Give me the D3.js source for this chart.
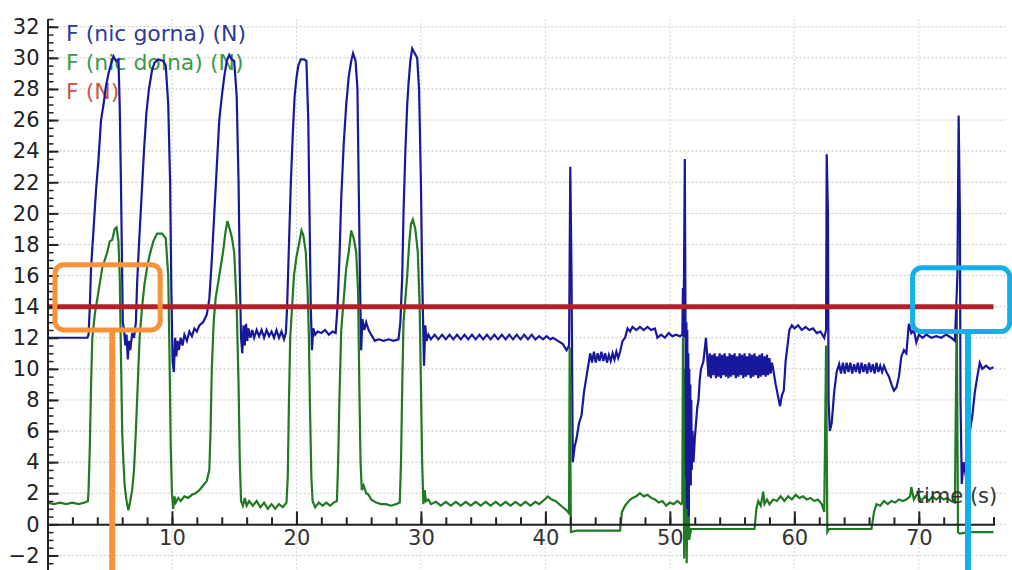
<!DOCTYPE html>
<html>
<head>
<meta charset="utf-8">
<script src="https://cdn.jsdelivr.net/npm/d3@7"></script>
<style>
  body { margin: 0; background: #fff; }
  svg { display: block; }
  text { font-family: "DejaVu Sans", sans-serif; }
</style>
</head>
<body>
<script>
// F (nic gorna) (N) - [time s, force N]
const gorna = [
  [0,12.0],[3.2,12.0],[3.3,12.2],[3.4,14],[3.5,16.5],[3.7,19],[3.9,21.5],[4.1,23.5],[4.3,26],[4.5,27],
  [4.7,28.2],[4.9,29],[5.1,29.6],[5.3,30.1],[5.5,29.8],[5.7,29.9],[5.8,27],[5.9,22],[6.0,16],[6.05,13],
  [6.15,12.5],[6.25,11.5],[6.35,12.2],[6.45,10.6],[6.55,11.8],[6.65,11.2],[6.8,12.3],[6.95,12.0],[7.1,13],
  [7.2,15.5],[7.35,18],[7.55,21],[7.75,24],[7.95,26.5],[8.15,28],[8.4,29.2],[8.6,29.7],[8.9,29.9],[9.3,29.8],
  [9.5,29.5],[9.7,27],[9.85,22],[9.95,15],[10.05,10.5],[10.15,9.8],[10.25,12],[10.35,10.8],[10.45,11.8],
  [10.55,11.2],[10.7,12.0],[10.85,11.5],[11.0,12.2],[11.2,11.8],[11.4,12.4],[11.6,12.1],[11.8,12.6],[12.0,12.4],
  [12.2,12.8],[12.5,13.0],[12.8,13.5],[13.0,14.5],[13.2,17],[13.4,20],[13.6,23],[13.8,26],[14.0,27.5],
  [14.2,28.8],[14.4,29.8],[14.6,30.2],[14.8,29.9],[15.0,29.8],[15.2,27.5],[15.35,22],[15.45,16],[15.55,12],
  [15.65,11],[15.75,12.8],[15.85,11.5],[15.95,12.9],[16.05,11.8],[16.15,12.6],[16.3,12.0],[16.45,12.5],
  [16.6,12.0],[16.8,12.5],[17.0,12.1],[17.2,12.5],[17.4,12.0],[17.6,12.5],[17.8,12.1],[18.0,12.4],[18.2,12.0],
  [18.4,12.5],[18.6,12.0],[18.8,12.4],[19.0,11.9],[19.15,12.3],[19.25,14],[19.4,18],[19.55,22],[19.7,25],
  [19.85,27.5],[20.0,28.7],[20.15,29.5],[20.35,29.9],[20.6,29.9],[20.8,29.8],[20.95,26],[21.05,20],[21.15,14],
  [21.25,11.2],[21.35,12.6],[21.5,12.2],[21.7,12.4],[22.0,12.3],[22.3,12.5],[22.6,12.2],[22.9,12.4],[23.15,12.3],
  [23.3,14],[23.45,17],[23.6,21],[23.8,24.5],[24.0,27],[24.2,28.8],[24.4,29.8],[24.55,30.3],[24.75,29.8],
  [24.9,28],[25.0,22],[25.1,16],[25.2,11.2],[25.3,13.2],[25.45,12.5],[25.6,13.0],[25.8,12.5],[26.0,12.2],
  [26.3,11.8],[26.6,11.9],[27.0,11.8],[27.4,11.9],[27.8,11.8],[28.2,11.9],[28.35,13],[28.5,16],[28.6,20],
  [28.75,24],[28.9,27],[29.0,28.3],[29.15,29.8],[29.3,30.6],[29.5,30.3],[29.7,30.0],[29.85,28],[30.0,22],
  [30.1,16],[30.2,12],[30.25,10.2],[30.35,12.8],[30.45,11.8],[30.6,12.2],
  [30.8,11.9],[31.1,12.2],[31.4,11.9],[31.7,12.2],[32.0,11.9],[32.3,12.2],[32.6,11.9],[32.9,12.2],[33.2,11.9],
  [33.5,12.2],[33.8,11.9],[34.1,12.2],[34.4,11.9],[34.7,12.2],[35.0,11.9],[35.3,12.2],[35.6,11.9],[35.9,12.2],
  [36.2,11.9],[36.5,12.2],[36.8,11.9],[37.1,12.2],[37.4,11.9],[37.7,12.2],[38.0,11.9],[38.3,12.2],[38.6,11.9],
  [38.9,12.2],[39.2,11.9],[39.5,12.1],[39.8,11.9],[40.1,12.1],[40.4,11.9],
  [40.6,12.0],[41.0,11.8],[41.4,11.6],[41.7,11.2],[41.9,11.5],[42.0,23.0],[42.1,16],[42.2,4.0],[42.35,5.0],
  [42.5,5.5],[42.7,6.5],[42.9,7.0],[43.1,8.5],[43.3,9.5],[43.5,10.5],[43.6,11.0],[43.75,10.4],[43.9,11.1],
  [44.05,10.4],[44.2,11.0],[44.35,10.5],[44.5,11.1],[44.65,10.5],[44.8,11.0],[44.95,10.4],[45.1,10.9],
  [45.25,10.5],[45.4,11.0],[45.55,10.6],[45.7,11.1],[45.85,10.7],[46.0,11.1],[46.2,11.8],[46.4,12.0],
  [46.6,12.6],[46.8,12.4],[47.0,12.7],[47.3,12.5],[47.6,12.7],[47.9,12.5],
  [48.2,12.7],[48.5,12.5],[48.8,12.6],[49.0,12.0],[49.3,12.2],[49.6,12.0],[49.9,12.3],[50.2,12.1],[50.5,12.2],
  [50.8,12.1],[51.0,12.2],[51.05,15.2],[51.1,12],[51.2,23.5],[51.25,14],[51.3,3],[51.33,13],[51.37,1],
  [51.4,12.5],[51.44,2],[51.48,11],[51.52,0.5],[51.56,10],[51.6,3],[51.64,9],[51.68,2.5],[51.72,8],[51.76,3.5],
  [51.82,6],[51.9,4],[52.0,5.5],[52.1,6.5],[52.2,7.5],[52.3,8],[52.4,9.3],[52.5,10],
  [52.7,10.5],[52.9,12.0],[53.0,10.8],
  [53.1,9.5],[53.2,11.0],[53.3,9.4],[53.4,10.9],[53.5,9.6],[53.6,11.0],[53.7,9.4],[53.8,10.8],[53.9,9.5],
  [54.0,11.0],[54.1,9.4],[54.2,10.9],[54.3,9.6],[54.4,11.0],[54.5,9.5],[54.6,10.8],[54.7,9.4],[54.8,11.0],
  [54.9,9.5],[55.0,10.9],[55.1,9.6],[55.2,11.0],[55.3,9.4],[55.4,10.8],[55.5,9.5],[55.6,11.0],[55.7,9.6],
  [55.8,10.9],[55.9,9.4],[56.0,11.0],[56.1,9.5],[56.2,10.8],[56.3,9.6],[56.4,11.0],[56.5,9.4],[56.6,10.9],
  [56.7,9.5],[56.8,11.0],[56.9,9.6],[57.0,10.8],[57.1,9.4],[57.2,10.9],[57.3,9.5],[57.4,11.0],[57.5,9.6],
  [57.6,10.8],[57.7,9.5],[57.8,10.9],[57.9,9.6],[58.0,10.7],[58.1,9.7],[58.2,10.4],
  [58.3,10.0],[58.5,9.0],[58.7,8.2],[58.85,7.6],[59.0,8.3],[59.15,8.6],[59.3,10.5],[59.45,11.5],[59.6,12.5],
  [59.8,12.8],[60.0,12.6],[60.3,12.8],[60.6,12.5],[60.9,12.7],[61.2,12.5],[61.5,12.6],[61.8,12.3],[62.1,12.4],
  [62.4,12.0],[62.55,12.5],[62.6,23.8],[62.7,20],[62.75,8],[62.85,6.0],[63.0,6.5],[63.2,8.5],[63.4,9.8],
  [63.6,10.3],[63.75,9.7],[63.9,10.4],[64.05,9.7],[64.2,10.4],[64.35,9.8],[64.5,10.4],[64.65,9.7],[64.8,10.3],
  [64.95,9.8],[65.1,10.4],[65.25,9.7],[65.4,10.4],[65.55,9.8],[65.7,10.3],[65.85,9.7],[66.0,10.4],[66.15,9.8],
  [66.3,10.3],[66.45,9.7],[66.6,10.4],[66.75,9.8],[66.9,10.2],[67.05,9.8],[67.2,10.2],[67.4,9.8],
  [67.6,9.5],[67.8,9.0],[68.0,8.6],[68.2,8.8],[68.4,9.5],[68.6,10.8],[68.8,11.2],
  [69.0,11.0],[69.2,12.9],[69.4,12.3],[69.6,12.5],[69.8,11.7],[70.0,12.2],[70.3,12.0],[70.6,12.2],[71.0,12.0],
  [71.4,12.1],[71.8,12.0],[72.2,12.2],[72.6,12.0],[72.9,11.8],[73.1,16],[73.2,26.3],[73.3,20],[73.35,8],
  [73.45,2.6],[73.6,4],[73.8,3],[74.0,5.5],[74.3,7.0],[74.5,8.5],[74.7,9.5],[74.9,10.4],[75.1,10.0],
  [75.4,10.2],[75.7,10.0],[76.0,10.1]
];

// F (nic dolna) (N)
const dolna = [
  [0,1.4],[0.5,1.3],[1,1.4],[1.5,1.3],[2,1.4],[2.5,1.3],[3.0,1.4],[3.25,1.5],[3.3,2.2],[3.4,5],[3.5,9],
  [3.6,12],[3.8,13.5],[4.0,14.5],[4.2,15.5],[4.4,16.5],[4.6,17.0],[4.8,17.5],[5.0,18.2],[5.2,18.3],[5.4,19.0],
  [5.55,19.1],[5.7,18.2],[5.8,16],[5.9,11],[6.0,6],[6.1,4],[6.2,2.5],[6.35,1.5],[6.5,0.9],[6.65,1.5],[6.8,2.2],
  [6.95,3.5],[7.1,6],[7.25,9],[7.4,12],[7.6,14],[7.8,15.5],[8.0,16.5],[8.2,17.3],[8.5,18.2],[8.8,18.7],
  [9.2,18.7],[9.5,18.4],[9.7,16],[9.8,11],[9.9,5],[10.0,2],[10.1,1.0],[10.2,1.8],[10.3,1.4],[10.5,1.7],
  [10.7,1.5],[11.0,1.8],[11.3,1.7],[11.6,1.9],[11.9,2.0],[12.2,2.2],[12.5,2.5],[12.8,2.8],[13.0,3.5],[13.1,6],
  [13.2,10],[13.35,13],[13.5,14.5],[13.7,15.5],[13.9,16.5],[14.1,17.5],[14.3,18.8],[14.45,19.5],[14.6,19.1],
  [14.8,18.5],[15.0,17.5],[15.2,14],[15.35,9],[15.45,4],[15.55,1.5],[15.7,1.2],[15.85,1.7],[16.0,1.2],
  [16.2,1.5],[16.5,1.2],[16.8,1.5],[17.1,1.1],[17.4,1.4],[17.7,1.0],[18.0,1.3],[18.3,1.0],[18.6,1.3],
  [18.9,1.1],[19.2,1.4],[19.3,3],[19.4,8],[19.5,12],[19.65,14],[19.8,16],[20.0,17.2],[20.2,18.0],[20.4,18.9],
  [20.55,18.6],[20.75,17.5],[20.9,15],[21.0,12],[21.1,7],[21.2,3],[21.3,1.5],[21.5,1.1],[21.8,1.4],[22.1,1.2],
  [22.4,1.4],[22.7,1.2],[23.0,1.4],[23.25,1.5],[23.35,4],[23.45,8],[23.6,12.5],[23.8,14.5],[24.0,16.5],
  [24.2,17.5],[24.4,18.9],[24.6,18.4],[24.8,17.5],[24.95,15],[25.05,9],[25.15,4],[25.25,2.2],[25.4,2.5],
  [25.6,2.0],[25.8,1.9],[26.0,1.6],[26.4,1.4],[26.8,1.3],[27.2,1.3],[27.6,1.2],[28.0,1.3],[28.3,1.4],[28.4,4],
  [28.5,9],[28.6,13],[28.75,14.5],[28.9,16],[29.05,18],[29.2,19.3],[29.35,19.6],[29.55,19.0],[29.75,17.5],
  [29.9,14],[30.0,9],[30.1,4],[30.2,1.3],[30.3,2.2],[30.4,1.5],[30.6,1.6],[30.8,1.3],
  [31.2,1.45],[31.6,1.2],[32.0,1.45],[32.4,1.2],[32.8,1.45],[33.2,1.2],[33.6,1.45],[34.0,1.2],[34.4,1.45],
  [34.8,1.2],[35.2,1.45],[35.6,1.2],[36.0,1.45],[36.4,1.2],[36.8,1.45],[37.2,1.2],[37.6,1.45],[38.0,1.2],
  [38.4,1.45],[38.8,1.2],[39.2,1.45],[39.5,1.3],
  [39.8,1.5],[40.2,1.8],[40.5,1.6],[40.8,1.5],[41.1,1.3],[41.4,1.1],[41.7,0.9],[41.9,0.7],[41.95,11.4],
  [42.05,-0.5],[42.5,-0.4],[44,-0.4],[46.0,-0.4],[46.15,0.8],[46.4,1.2],[46.7,1.5],[47.0,1.7],[47.3,1.8],
  [47.6,2.0],[47.9,1.8],[48.2,1.9],[48.5,1.7],[48.8,1.6],[49.1,1.4],[49.4,1.5],[49.7,1.2],[50.0,1.4],
  [50.3,1.3],[50.6,1.5],[50.9,1.3],[51.0,1.4],[51.05,12],[51.15,-2.2],[51.25,10],[51.35,-2.5],[51.45,5],
  [51.55,-1],[51.7,-0.3],[53,-0.3],[55,-0.3],[56.8,-0.3],[56.95,1.0],[57.1,1.5],[57.3,1.2],[57.5,2.1],
  [57.6,1.3],[57.8,1.6],[58.0,1.3],[58.3,1.6],[58.6,1.5],[58.9,1.8],[59.2,1.5],[59.5,1.8],[59.8,1.6],
  [60.1,1.9],[60.4,1.7],[60.7,1.8],[61.0,1.6],[61.3,1.7],[61.6,1.5],[61.9,1.6],[62.2,1.3],[62.4,0.8],
  [62.55,11.5],[62.65,-0.5],[62.8,-0.3],[64,-0.3],[66.2,-0.3],[66.4,0.8],[66.6,1.3],[66.9,1.2],[67.2,1.5],
  [67.5,1.3],[67.8,1.5],[68.1,1.4],[68.4,1.6],[68.7,1.5],[69.0,1.6],[69.3,1.8],[69.4,2.4],[69.6,1.6],
  [69.9,2.0],[70.2,1.5],[70.5,1.8],[70.8,1.5],[71.1,1.8],[71.4,1.6],[71.7,1.8],[72.0,1.6],[72.3,1.7],
  [72.6,1.5],[72.9,1.4],[73.05,14],[73.15,-0.5],[73.3,-0.6],[74,-0.5],[76,-0.5]
];

// F (N) - threshold
const fLine = [[0,14],[76,14]];

const legendLabels = ["F (nic gorna) (N)", "F (nic dolna) (N)", "F (N)"];
const legendColors = ["#2e3a98", "#3d9a48", "#c65a45"];

const yMajor = d3.range(-2, 33, 2);
const yMinor = d3.range(-3, 32.6, 0.5);
const xMajor = [10, 20, 30, 40, 50, 60, 70];
const xMinor = d3.range(0, 77, 2);

// highlight boxes [x0, x1, y0, y1, stem x]
const orangeBox = [0.6, 9.05, 12.5, 16.7, 5.2];
const blueBox = [69.5, 77.3, 12.4, 16.5, 73.95];

const width = 1012;
const height = 570;

const x = d3.scaleLinear().domain([0, 76]).range([47.5, 993.5]);
const y = d3.scaleLinear().domain([-3, 32.5]).range([571, 19]);

const svg = d3.select("body")
  .append("svg")
  .attr("width", width)
  .attr("height", height);

// grid
svg.append("g")
  .selectAll("line")
  .data(yMajor)
  .join("line")
  .attr("x1", x(0))
  .attr("x2", x(77))
  .attr("y1", d => y(d))
  .attr("y2", d => y(d))
  .style("stroke", "#c4c4c4")
  .style("stroke-dasharray", "2,2");

svg.append("g")
  .selectAll("line")
  .data(xMajor)
  .join("line")
  .attr("x1", d => x(d))
  .attr("x2", d => x(d))
  .attr("y1", y(32.5))
  .attr("y2", y(-3))
  .style("stroke", "#d4d4d4")
  .style("stroke-dasharray", "2,2");

// legend (under the traces)
svg.append("g")
  .selectAll("text")
  .data(legendLabels)
  .join("text")
  .attr("x", 66)
  .attr("y", (d, i) => 41 + i * 29)
  .style("font-size", "22px")
  .style("fill", (d, i) => legendColors[i])
  .text(d => d);

const line = d3.line().x(d => x(d[0])).y(d => y(d[1]));

svg.append("path")
  .datum(dolna)
  .attr("d", line)
  .style("fill", "none")
  .style("stroke", "#1f7a22")
  .style("stroke-width", 2.2);

svg.append("path")
  .datum(gorna)
  .attr("d", line)
  .style("fill", "none")
  .style("stroke", "#18189c")
  .style("stroke-width", 2.2);

svg.append("path")
  .datum(fLine)
  .attr("d", line)
  .style("fill", "none")
  .style("stroke", "#b3202a")
  .style("stroke-width", 5);

// y axis
svg.append("g")
  .attr("transform", `translate(${x(0)},0)`)
  .call(d3.axisLeft(y).tickValues(yMinor).tickSizeInner(-6).tickSizeOuter(0).tickFormat(""))
  .call(g => g.select(".domain").remove())
  .selectAll("line").style("stroke", "#222").style("stroke-width", 1.5);

svg.append("g")
  .attr("transform", `translate(${x(0)},0)`)
  .call(d3.axisLeft(y).tickValues(yMajor).tickSizeInner(-11).tickSizeOuter(0).tickPadding(8))
  .call(g => g.selectAll("text").style("font-size", "21px").style("fill", "#222")
    .style("font-family", "'DejaVu Sans', sans-serif"))
  .call(g => g.selectAll("line, path").style("stroke", "#222").style("stroke-width", 2));

// x axis at zero
svg.append("g")
  .attr("transform", `translate(0,${y(0)})`)
  .call(d3.axisBottom(x).tickValues(xMinor).tickSizeInner(-7).tickSizeOuter(-7).tickFormat(""))
  .selectAll("line, path").style("stroke", "#222").style("stroke-width", 2);

svg.append("g")
  .attr("transform", `translate(0,${y(0)})`)
  .call(d3.axisBottom(x).tickValues(xMajor).tickSizeInner(-13).tickSizeOuter(0).tickPadding(6))
  .call(g => g.select(".domain").remove())
  .call(g => g.selectAll("text").style("font-size", "21px").style("fill", "#333")
    .style("font-family", "'DejaVu Sans', sans-serif"))
  .call(g => g.selectAll("line").style("stroke", "#222").style("stroke-width", 2));

svg.append("text")
  .attr("x", x(76.3))
  .attr("y", y(1.4))
  .attr("text-anchor", "end")
  .style("font-size", "21px")
  .style("fill", "#333")
  .text("time (s)");

// highlight boxes with stems
function box(b, color) {
  svg.append("rect")
    .attr("x", x(b[0]))
    .attr("y", y(b[3]))
    .attr("width", x(b[1]) - x(b[0]))
    .attr("height", y(b[2]) - y(b[3]))
    .attr("rx", 9)
    .style("fill", "none")
    .style("stroke", color)
    .style("stroke-width", 5);
  svg.append("line")
    .attr("x1", x(b[4]))
    .attr("x2", x(b[4]))
    .attr("y1", y(b[2]))
    .attr("y2", height)
    .style("stroke", color)
    .style("stroke-width", 6);
}
box(orangeBox, "#f7923a");
box(blueBox, "#14aee8");
</script>
</body>
</html>
